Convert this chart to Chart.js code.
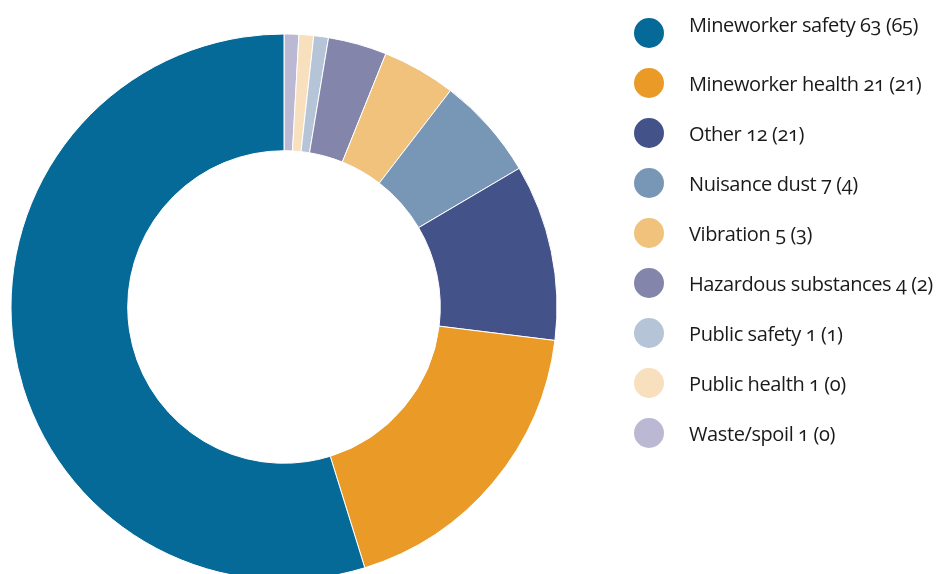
<!DOCTYPE html>
<html>
<head>
<meta charset="utf-8">
<script src="https://cdn.jsdelivr.net/npm/chart.js@4/dist/chart.umd.min.js"></script>
<style>
  html, body { margin: 0; padding: 0; background: #fff; overflow: hidden; }
  #wrap { position: relative; width: 937px; height: 600px; }
  #chart { position: absolute; left: 0; top: 0; }
  #legend { position: absolute; left: 634px; top: 18px; margin: 0; padding: 0; list-style: none;
            font-family: "Open Sans", sans-serif; font-size: 20px; letter-spacing: -0.4px; color: #1a1a1a;
            font-feature-settings: "onum" 1; font-variant-numeric: oldstyle-nums; }
  #legend li { position: relative; height: 50px; }
  #legend .dot { position: absolute; left: 0; top: 0; width: 30px; height: 30px; border-radius: 50%; }
  #legend .label { position: absolute; left: 55px; top: 1px; white-space: nowrap; line-height: 30px; }
  #legend li:first-child .label { top: -8px; }
</style>
</head>
<body>
<div id="wrap">
  <canvas id="chart" width="937" height="600"></canvas>
  <ul id="legend"></ul>
</div>
<script>
// Complaint categories, current count and previous count in brackets
const categories = [
  "Mineworker safety", "Mineworker health", "Other", "Nuisance dust", "Vibration",
  "Hazardous substances", "Public safety", "Public health", "Waste/spoil"
];
const currentCounts = [63, 21, 12, 7, 5, 4, 1, 1, 1];
const previousCounts = [65, 21, 21, 4, 3, 2, 1, 0, 0];
const sliceColors = [
  "#066a99", "#e99a27", "#44528a", "#7897b7", "#f0c27c",
  "#8385ab", "#b6c4d7", "#f8dfbe", "#bbb8d3"
];

// Slices run clockwise from the top, smallest category first
const order = categories.map((_, i) => i).reverse();

new Chart(document.getElementById("chart"), {
  type: "doughnut",
  data: {
    labels: order.map(i => categories[i]),
    datasets: [{
      data: order.map(i => currentCounts[i]),
      backgroundColor: order.map(i => sliceColors[i]),
      borderColor: "#ffffff",
      borderWidth: 1
    }]
  },
  options: {
    responsive: false,
    animation: false,
    radius: 273,
    cutout: 156,
    layout: { padding: { left: 11, right: 380, top: 34, bottom: 20 } },
    plugins: { legend: { display: false }, tooltip: { enabled: false } }
  }
});

// Legend, in category order
const legend = document.getElementById("legend");
categories.forEach((name, i) => {
  const li = document.createElement("li");
  const dot = document.createElement("span");
  dot.className = "dot";
  dot.style.background = sliceColors[i];
  const label = document.createElement("span");
  label.className = "label";
  label.textContent = name + " " + currentCounts[i] + " (" + previousCounts[i] + ")";
  li.appendChild(dot);
  li.appendChild(label);
  legend.appendChild(li);
});
</script>
</body>
</html>
